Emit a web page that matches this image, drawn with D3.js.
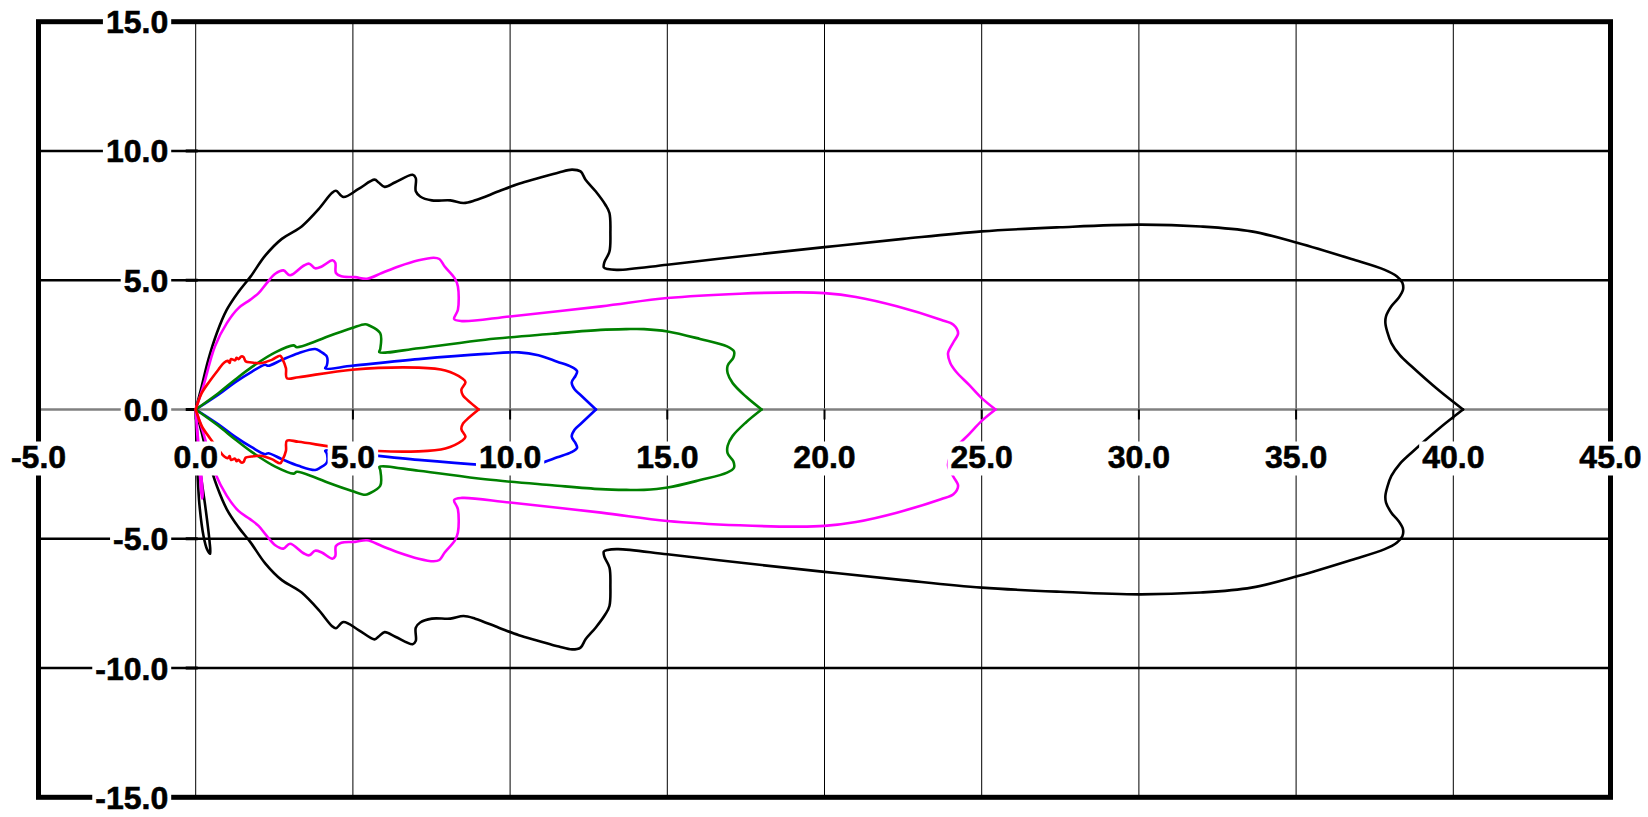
<!DOCTYPE html>
<html>
<head>
<meta charset="utf-8">
<script src="https://cdn.jsdelivr.net/npm/d3@7"></script>
<style>
    body { margin: 0; background: #fff; }
    text { font-family: "Liberation Sans", Arial, sans-serif; font-weight: bold; font-size: 32px; }
</style>
</head>
<body>
<div class="graph-goes-here"></div>
<script>
var xTicks = [-5, 0, 5, 10, 15, 20, 25, 30, 35, 40, 45];
var yTicks = [-15, -10, -5, 0, 5, 10, 15];

// each contour: upper half from the source out to the tip, lower half back again
var blackUpper = [[0,0],[0.19,0.89],[0.4,1.92],[0.67,2.95],[0.99,3.86],[1.36,4.55],[1.75,5.15],[2.21,5.95],[2.74,6.6],[3.16,6.91],[3.37,7.08],[3.91,7.75],[4.33,8.37],[4.46,8.46],[4.7,8.22],[5.18,8.53],[5.69,8.89],[5.82,8.78],[6.01,8.61],[6.35,8.79],[6.9,9.08],[7.0,8.95],[7.0,8.44],[7.14,8.24],[7.51,8.09],[8.1,8.09],[8.52,7.99],[8.89,8.09],[9.64,8.44],[10.28,8.73],[10.91,8.95],[11.55,9.17],[11.97,9.28],[12.24,9.21],[12.4,8.89],[12.72,8.44],[13.03,7.92],[13.16,7.6],[13.19,6.83],[13.16,6.11],[13.0,5.7],[12.98,5.5],[13.1,5.43],[13.44,5.4],[15,5.6],[17.5,5.95],[20,6.28],[22.5,6.6],[25,6.89],[27.5,7.05],[30,7.15],[31.97,7.08],[33.58,6.89],[35.06,6.44],[36.76,5.82],[37.82,5.4],[38.2,5.15],[38.38,4.9],[38.4,4.63],[38.25,4.3],[38.03,3.99],[37.86,3.6],[37.84,3.34],[37.9,3.0],[38.03,2.57],[38.3,2.1],[38.67,1.67],[39.52,0.76],[40.31,0]];
var blackLower = [[40.31,0],[39.52,-0.76],[38.67,-1.67],[38.3,-2.1],[38.03,-2.57],[37.9,-3.0],[37.84,-3.34],[37.86,-3.6],[38.03,-3.99],[38.25,-4.3],[38.4,-4.63],[38.38,-4.9],[38.2,-5.15],[37.82,-5.4],[36.76,-5.82],[35.06,-6.44],[33.58,-6.89],[31.97,-7.08],[30,-7.15],[27.5,-7.05],[25,-6.89],[22.5,-6.6],[20,-6.28],[17.5,-5.95],[15,-5.6],[13.44,-5.4],[13.1,-5.43],[12.98,-5.5],[13.0,-5.7],[13.16,-6.11],[13.19,-6.83],[13.16,-7.6],[13.03,-7.92],[12.72,-8.44],[12.4,-8.89],[12.24,-9.21],[11.97,-9.28],[11.55,-9.17],[10.91,-8.95],[10.28,-8.73],[9.64,-8.44],[8.89,-8.09],[8.52,-7.99],[8.1,-8.09],[7.51,-8.09],[7.14,-8.24],[7.0,-8.44],[7.0,-8.95],[6.9,-9.08],[6.35,-8.79],[6.01,-8.61],[5.82,-8.78],[5.69,-8.89],[5.18,-8.53],[4.7,-8.22],[4.46,-8.46],[4.33,-8.37],[3.91,-7.75],[3.37,-7.08],[3.16,-6.91],[2.74,-6.6],[2.21,-5.95],[1.75,-5.15],[1.36,-4.55],[0.99,-3.86],[0.67,-2.95],[0.4,-1.92],[0.19,-0.89],[0,0]];
var blackLoop = [[0,0],[0.03,-1.5],[0.06,-2.5],[0.12,-3.7],[0.25,-4.9],[0.36,-5.4],[0.46,-5.58],[0.44,-5.1],[0.3,-3.7],[0.16,-2.5],[0.06,-1.2],[0,0]];

var magentaUpper = [[0,0],[0.24,0.89],[0.61,2.44],[0.99,3.34],[1.36,3.92],[1.73,4.24],[2.0,4.5],[2.26,4.89],[2.53,5.25],[2.79,5.38],[3.0,5.19],[3.43,5.56],[3.61,5.64],[3.8,5.46],[4.01,5.53],[4.35,5.77],[4.44,5.67],[4.46,5.28],[4.63,5.15],[5.07,5.12],[5.45,5.06],[5.92,5.28],[6.45,5.53],[7.09,5.77],[7.57,5.87],[7.75,5.82],[7.92,5.53],[8.24,5.07],[8.34,4.76],[8.34,3.86],[8.22,3.5],[8.47,3.42],[10,3.6],[12.9,3.99],[15,4.31],[17.3,4.48],[19.2,4.53],[20,4.5],[21,4.35],[22.3,3.99],[23.7,3.47],[24.1,3.28],[24.25,2.95],[24.1,2.6],[23.93,2.18],[24.0,1.8],[24.18,1.47],[24.6,0.95],[25.0,0.44],[25.44,0]];
var magentaLower = [[25.44,0],[25.0,-0.44],[24.6,-0.95],[24.18,-1.47],[24.0,-1.8],[23.93,-2.18],[24.1,-2.6],[24.25,-2.95],[24.1,-3.28],[23.7,-3.47],[22.3,-3.99],[21,-4.35],[20,-4.5],[19.2,-4.53],[17.3,-4.48],[15,-4.31],[12.9,-3.99],[10,-3.6],[8.47,-3.42],[8.22,-3.5],[8.34,-3.86],[8.34,-4.76],[8.24,-5.07],[7.92,-5.53],[7.75,-5.82],[7.57,-5.87],[7.09,-5.77],[6.45,-5.53],[5.92,-5.28],[5.45,-5.06],[5.07,-5.12],[4.63,-5.15],[4.46,-5.28],[4.44,-5.67],[4.35,-5.77],[4.01,-5.53],[3.8,-5.46],[3.61,-5.64],[3.43,-5.56],[3.0,-5.19],[2.79,-5.38],[2.53,-5.25],[2.26,-4.89],[2.0,-4.5],[1.73,-4.24],[1.36,-3.92],[0.99,-3.34],[0.61,-2.44],[0.24,-0.89],[0,0]];
var magentaSpike = [[0,0],[0.08,-1.5],[0.15,-2.8],[0.2,-3.45],[0.22,-3.3],[0.15,-2.2],[0.05,-0.8],[0,0]];

var greenUpper = [[0,0],[0.72,0.63],[1.25,1.15],[1.78,1.64],[2.53,2.21],[3.11,2.48],[3.22,2.41],[3.8,2.63],[4.22,2.83],[4.97,3.15],[5.39,3.3],[5.52,3.25],[5.87,2.95],[5.87,2.34],[5.84,2.22],[7.09,2.37],[9.21,2.7],[11.34,2.93],[12.88,3.08],[13.7,3.11],[14.26,3.11],[15.01,3.02],[16.04,2.73],[16.9,2.44],[17.12,2.25],[17.1,2.0],[16.92,1.7],[16.92,1.4],[17.08,1.02],[17.5,0.5],[18.0,0]];
var greenLower = [[18.0,0],[17.5,-0.5],[17.08,-1.02],[16.92,-1.4],[16.92,-1.7],[17.1,-2.0],[17.12,-2.25],[16.9,-2.44],[16.04,-2.73],[15.01,-3.02],[14.26,-3.11],[13.7,-3.11],[12.88,-3.08],[11.34,-2.93],[9.21,-2.7],[7.09,-2.37],[5.84,-2.22],[5.87,-2.34],[5.87,-2.95],[5.52,-3.25],[5.39,-3.3],[4.97,-3.15],[4.22,-2.83],[3.8,-2.63],[3.22,-2.41],[3.11,-2.48],[2.53,-2.21],[1.78,-1.64],[1.25,-1.15],[0.72,-0.63],[0,0]];

var blueUpper = [[0,0],[0.72,0.57],[1.25,1.05],[1.78,1.46],[2.21,1.73],[2.31,1.69],[2.74,1.92],[3.27,2.18],[3.8,2.34],[3.96,2.25],[4.17,2.05],[4.17,1.7],[4.12,1.59],[4.97,1.69],[7.09,1.95],[9.21,2.15],[10.28,2.21],[10.9,2.1],[11.5,1.85],[11.95,1.65],[12.13,1.48],[12.08,1.3],[11.96,1.05],[12.05,0.78],[12.25,0.55],[12.73,0]];
var blueLower = [[12.73,0],[12.25,-0.55],[12.05,-0.78],[11.96,-1.05],[12.08,-1.3],[12.13,-1.48],[11.95,-1.65],[11.5,-1.85],[10.9,-2.1],[10.28,-2.21],[9.21,-2.15],[7.09,-1.95],[4.97,-1.69],[4.12,-1.59],[4.17,-1.7],[4.17,-2.05],[3.96,-2.25],[3.8,-2.34],[3.27,-2.18],[2.74,-1.92],[2.31,-1.69],[2.21,-1.73],[1.78,-1.46],[1.25,-1.05],[0.72,-0.57],[0,0]];

var redUpper = [[0,0],[0.19,0.63],[0.46,1.12],[0.72,1.54],[0.91,1.82],[1.02,1.88],[1.08,1.8],[1.12,1.95],[1.25,1.9],[1.3,2.0],[1.36,1.95],[1.45,2.05],[1.52,2.03],[1.59,1.86],[1.78,1.82],[2.05,1.79],[2.42,1.92],[2.69,2.08],[2.76,1.95],[2.87,1.6],[2.9,1.21],[3.27,1.25],[4.97,1.54],[7.09,1.62],[7.94,1.51],[8.47,1.21],[8.58,1.06],[8.45,0.76],[8.5,0.55],[8.63,0.38],[9.0,0]];
var redLower = [[9.0,0],[8.63,-0.38],[8.5,-0.55],[8.45,-0.76],[8.58,-1.06],[8.47,-1.21],[7.94,-1.51],[7.09,-1.62],[4.97,-1.54],[3.27,-1.25],[2.9,-1.21],[2.87,-1.6],[2.76,-1.95],[2.69,-2.08],[2.42,-1.92],[2.05,-1.79],[1.78,-1.82],[1.59,-1.86],[1.52,-2.03],[1.45,-2.05],[1.36,-1.95],[1.3,-2.0],[1.25,-1.9],[1.12,-1.95],[1.08,-1.8],[1.02,-1.88],[0.91,-1.82],[0.72,-1.54],[0.46,-1.12],[0.19,-0.63],[0,0]];

// halves are drawn as separate paths so the tips stay sharp
var contours = [
    { color: "#000000", parts: [blackUpper, blackLower, blackLoop] },
    { color: "#ff00ff", parts: [magentaUpper, magentaLower, magentaSpike] },
    { color: "#0000ff", parts: [blueUpper, blueLower] },
    { color: "#008000", parts: [greenUpper, greenLower] },
    { color: "#ff0000", parts: [redUpper, redLower] }
];

var svg = d3.select(".graph-goes-here")
    .append("svg")
    .attr("width", 1648)
    .attr("height", 817);

var x = d3.scaleLinear().domain([-5, 45]).range([38.5, 1610.5]);
var y = d3.scaleLinear().domain([-15, 15]).range([797.3, 21.7]);

// vertical grid
svg.append("g").selectAll("line").data(xTicks).join("line")
    .attr("x1", d => x(d)).attr("x2", d => x(d))
    .attr("y1", y(15)).attr("y2", y(-15))
    .attr("stroke", "#000").attr("stroke-width", 1);

// horizontal grid, zero line in grey
svg.append("g").selectAll("line").data(yTicks).join("line")
    .attr("x1", x(-5)).attr("x2", x(45))
    .attr("y1", d => y(d)).attr("y2", d => y(d))
    .attr("stroke", d => d === 0 ? "#808080" : "#000")
    .attr("stroke-width", 2.5);

// tick marks
svg.append("g").selectAll("line").data(xTicks).join("line")
    .attr("x1", d => x(d)).attr("x2", d => x(d))
    .attr("y1", y(0)).attr("y2", y(0) + 10)
    .attr("stroke", "#000").attr("stroke-width", 2);
svg.append("g").selectAll("line").data(yTicks).join("line")
    .attr("x1", x(0) - 10).attr("x2", x(0) + 2)
    .attr("y1", d => y(d)).attr("y2", d => y(d))
    .attr("stroke", "#000").attr("stroke-width", 3);

// frame
svg.append("rect")
    .attr("x", x(-5)).attr("y", y(15))
    .attr("width", x(45) - x(-5)).attr("height", y(-15) - y(15))
    .attr("fill", "none").attr("stroke", "#000").attr("stroke-width", 5);

// contours
var line = d3.line()
    .curve(d3.curveCatmullRom.alpha(0.5))
    .x(d => x(d[0]))
    .y(d => y(d[1]));

contours.forEach(c => {
    svg.append("g").selectAll("path").data(c.parts).join("path")
        .attr("d", d => line(d))
        .attr("fill", "none")
        .attr("stroke", c.color)
        .attr("stroke-width", 2.6)
        .attr("stroke-linejoin", "round")
        .attr("stroke-linecap", "round");
});

// labels with white boxes behind them
function AddLabel(g, tx, ty, anchor, str) {
    var lg = g.append("g");
    var bg = lg.append("rect").attr("fill", "#fff");
    var t = lg.append("text")
        .attr("x", tx).attr("y", ty)
        .attr("text-anchor", anchor)
        .attr("fill", "#000")
        .attr("stroke", "#000")
        .attr("stroke-width", 0.6)
        .text(str);
    var bb = t.node().getBBox();
    bg.attr("x", bb.x - 3).attr("width", bb.width + 6)
        .attr("y", ty - 26).attr("height", 34);
}

var labels = svg.append("g");
xTicks.forEach(d => AddLabel(labels, x(d), y(0) + 58, "middle", d.toFixed(1)));
yTicks.forEach(d => AddLabel(labels, x(0) - 27.5, y(d) + 11.5, "end", d.toFixed(1)));
</script>
</body>
</html>
